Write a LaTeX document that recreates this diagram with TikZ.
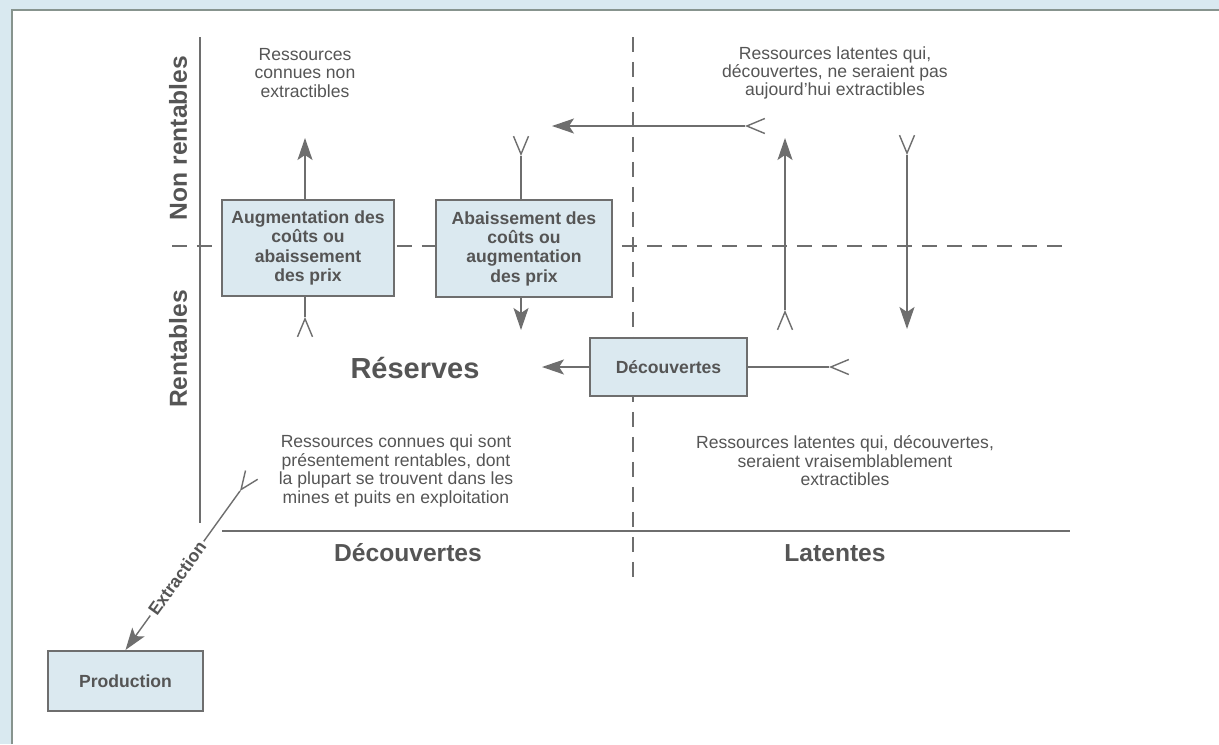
\documentclass[tikz,border=0pt]{standalone}
\usepackage{fontspec}
\setmainfont{Liberation Sans}
\usepackage{tikz}
\usetikzlibrary{arrows.meta,decorations.markings}
\definecolor{paleblue}{RGB}{217,233,240}
\definecolor{boxfill}{RGB}{219,233,240}
\definecolor{ink}{RGB}{85,85,85}
\definecolor{rule}{RGB}{110,110,110}
\definecolor{edge}{RGB}{135,148,142}
\tikzset{>={Stealth[length=0.44cm,width=0.3cm,inset=0.1cm]}}
\tikzset{feed/.style={decoration={
      markings,
      mark=at position 0 with {\arrow{Straight Barb[length=0.36cm,width=0.3cm]}}},postaction={decorate}}}
\tikzset{flow/.style={rule}}
\tikzset{divide/.style={draw=rule, dash pattern=on 0.3cm off 0.2cm}}
\tikzset{box/.style={draw=rule, line width=1.2pt, fill=boxfill, text=ink, align=center,
    inner sep=0pt, font=\bfseries\fontsize{10}{11}\selectfont}}
\tikzset{note/.style={text=ink, align=center, font=\fontsize{10}{10.5}\selectfont}}
\tikzset{head/.style={text=ink, font=\bfseries\fontsize{14}{16}\selectfont}}

\begin{document}
\begin{tikzpicture}[x=0.02cm,y=-0.02cm,thick]
    \useasboundingbox (0,0) rectangle (1219,744);
    \fill[paleblue] (0,0) rectangle (1219,744);
    \fill[white] (12,10) rectangle (1219,744);
    \draw[edge, line width=1.2pt] (12,744) -- (12,10) -- (1219,10);

    % axes and quadrant lines
    \draw[divide] (172,246) -- (1070,246);
    \draw[divide] (633,37) -- (633,580);
    \draw[rule] (200,37) -- (200,523);
    \draw[rule] (222,531) -- (1070,531);

    \node[head, rotate=90] (nonrent) at (178,138) {Non rentables};
    \node[head, rotate=90] (rent) at (178,349) {Rentables};
    \node[head] (decouv) at (408,553) {Découvertes};
    \node[head] (latent) at (835,553) {Latentes};
    \node[head, font=\bfseries\fontsize{16.5}{18}\selectfont] (reserves) at (415,368) {Réserves};

    \node[note] (knownout) at (305,73) {Ressources\\connues non\\extractibles};
    \node[note] (latentout) at (835,73) {Ressources latentes qui,\\découvertes, ne seraient pas\\aujourd’hui extractibles};
    \node[note] (knownin) at (396,471) {Ressources connues qui sont\\présentement rentables, dont\\la plupart se trouvent dans les\\mines et puits en exploitation};
    \node[note] (latentin) at (845,461) {Ressources latentes qui, découvertes,\\seraient vraisemblablement\\extractibles};

    \node[box, minimum width=3.44cm, minimum height=1.92cm] (up) at (308,248) {Augmentation des\\coûts ou\\abaissement\\des prix};
    \node[box, minimum width=3.52cm, minimum height=1.94cm] (down) at (524,248.5) {Abaissement des\\coûts ou\\augmentation\\des prix};
    \node[box, minimum width=3.14cm, minimum height=1.16cm] (find) at (668.5,367) {Découvertes};
    \node[box, minimum width=3.1cm, minimum height=1.2cm] (prod) at (125.5,681) {Production};

    \coordinate (upTip) at (305,138);
    \coordinate (upTail) at (305,317);
    \coordinate (downTail) at (521,156);
    \coordinate (downTip) at (521,330);
    \coordinate (topTail) at (745,126);
    \coordinate (topTip) at (552,126);
    \coordinate (riseTail) at (785,310);
    \coordinate (riseTip) at (785,138);
    \coordinate (sinkTail) at (907,155);
    \coordinate (sinkTip) at (907,329);
    \coordinate (resTip) at (542,367);
    \coordinate (findTail) at (829,367);
    \coordinate (mineTail) at (240,491);

    \draw[flow,->] (up.north -| upTip) -- (upTip);
    \draw[flow,feed] (upTail) -- (upTail |- up.south);
    \draw[flow,feed] (downTail) -- (downTail |- down.north);
    \draw[flow,->] (down.south -| downTip) -- (downTip);
    \draw[flow,feed,->] (topTail) -- (topTip);
    \draw[flow,feed,->] (riseTail) -- (riseTip);
    \draw[flow,feed,->] (sinkTail) -- (sinkTip);
    \draw[flow,->] (find) -- (resTip);
    \draw[flow,feed] (findTail) -- (find);
    \draw[flow,feed,->] (mineTail) -- node[pos=0.55, sloped, fill=white, inner sep=1.5pt, text=ink,
        font=\bfseries\fontsize{10}{11}\selectfont] (extr) {Extraction} (prod.north);
\end{tikzpicture}
\end{document}
